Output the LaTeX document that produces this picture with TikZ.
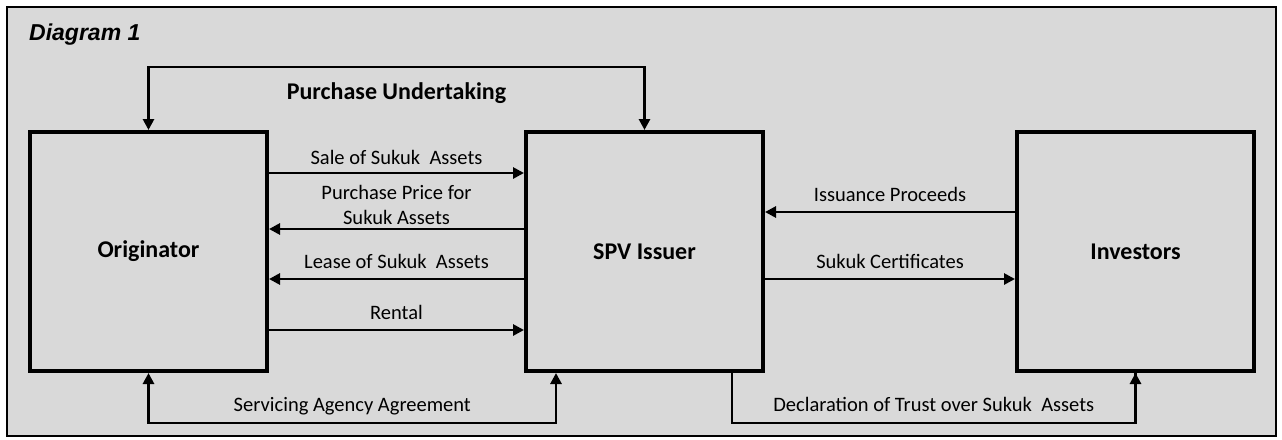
\documentclass[tikz,border=0pt]{standalone}
\usepackage{fontspec}
\setmainfont{Carlito}
\newfontfamily\headfont{Liberation Sans}
\usepackage{tikz}
\usetikzlibrary{positioning}
\usetikzlibrary{arrows.meta}
\definecolor{panel}{HTML}{D9D9D9}

\begin{document}
\begin{tikzpicture}[
      x=1pt, y=-1pt,
      party/.style={draw=black, line width=4pt, minimum width=237pt, minimum height=239pt,
        inner sep=0pt, font=\fontsize{24}{28}\selectfont\bfseries},
      flow/.style={line width=2.8pt, -{Triangle[length=11pt,width=11pt]}},
      twoway/.style={line width=2.8pt, {Triangle[length=11pt,width=11pt]}-{Triangle[length=11pt,width=11pt]}},
      plain/.style={line width=2.8pt},
      lbl/.style={font=\fontsize{20.5}{25}\selectfont, align=center, inner sep=3pt}
    ]
    \useasboundingbox (0,0) rectangle (1282,439);
    \fill[panel] (7,7) rectangle (1276,436);
    \draw[line width=2.5pt] (7,7) rectangle (1276,436);

    \node(title)[anchor=base west, inner sep=0pt,
      font=\headfont\fontsize{23}{26}\selectfont\bfseries\itshape] at (29,40) {Diagram 1};

    \node(orig)[party] at (148.5,251.5) {Originator};
    \node(spv)[party, right=255pt of orig] {SPV Issuer};
    \node(inv)[party, right=250pt of spv] {Investors};

    % originator <-> spv
    \draw [flow] ([yshift=78.5pt]orig.east) -- ([yshift=78.5pt]spv.west)
      node[midway, above, lbl, inner sep=7pt] {Sale of Sukuk\ \ Assets};
    \draw [flow] ([yshift=22.5pt]spv.west) -- ([yshift=22.5pt]orig.east)
      node[midway, above, lbl] {Purchase Price for\\Sukuk Assets};
    \draw [flow] ([yshift=-27.5pt]spv.west) -- ([yshift=-27.5pt]orig.east)
      node[midway, above, lbl, inner sep=9pt] {Lease of Sukuk\ \ Assets};
    \draw [flow] ([yshift=-78.5pt]orig.east) -- ([yshift=-78.5pt]spv.west)
      node[midway, above, lbl, inner sep=9pt] {Rental};

    % spv <-> investors
    \draw [flow] ([yshift=39.5pt]inv.west) -- ([yshift=39.5pt]spv.east)
      node[midway, above, lbl, inner sep=9pt] {Issuance Proceeds};
    \draw [flow] ([yshift=-27.5pt]spv.east) -- ([yshift=-27.5pt]inv.west)
      node[midway, above, lbl, inner sep=9pt] {Sukuk Certificates};

    % loops over and under the boxes
    \draw [twoway] (orig.north) -- ++(0,-63) -| (spv.north)
      node[pos=0.25, below, inner sep=14pt, font=\fontsize{24}{28}\selectfont\bfseries] {Purchase Undertaking};
    \draw [twoway] (orig.south) -- ++(0,50) -| ([xshift=-88.5pt]spv.south)
      node[pos=0.25, above, lbl, inner sep=5pt, text depth=5pt] {Servicing Agency Agreement};
    \draw [plain] ([xshift=87.5pt]spv.south) -- ++(0,50) -| (inv.south)
      node[pos=0.25, above, lbl, inner sep=5pt, text depth=5pt] {Declaration of Trust over Sukuk\ \ Assets};
    \draw [flow] ([xshift=-0.01pt]inv.south |- 0,421) -- (inv.south);
\end{tikzpicture}
\end{document}
